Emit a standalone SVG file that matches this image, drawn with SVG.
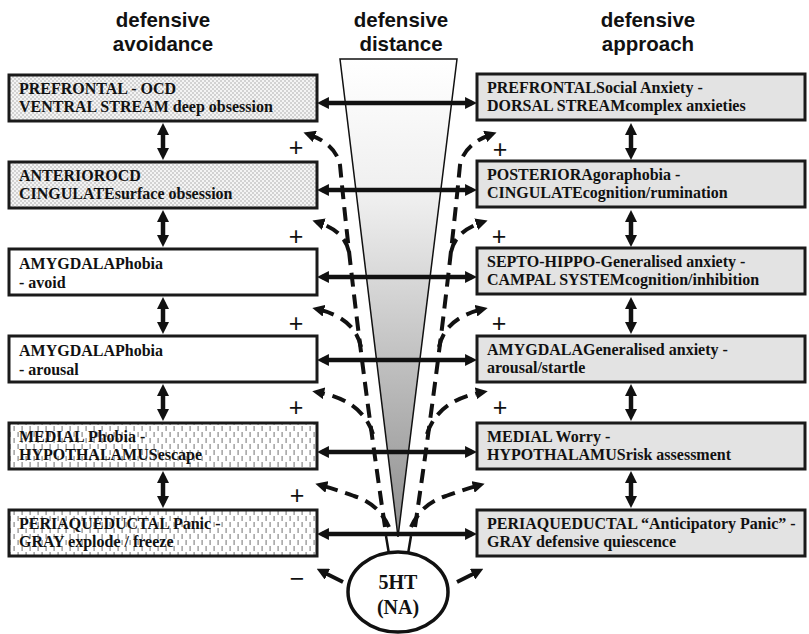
<svg xmlns="http://www.w3.org/2000/svg" width="809" height="634" viewBox="0 0 809 634">
  <defs>
    <style>
      .hdr { font-family: "Liberation Sans", Arial, sans-serif; font-weight: bold; font-size: 20.5px; fill: #111; text-anchor: middle; }
      .lbl { font-family: "Liberation Serif", "Times New Roman", serif; font-weight: bold; font-size: 16px; fill: #111; }
      .src { font-family: "Liberation Serif", "Times New Roman", serif; font-weight: bold; font-size: 20px; fill: #111; text-anchor: middle; }
      .sign { font-family: "Liberation Sans", Arial, sans-serif; font-size: 25px; fill: #111; text-anchor: middle; }
      .box { stroke: #1a1a1a; stroke-width: 3; }
      .dots { fill: url(#checker); }
      .plain { fill: #ffffff; }
      .dashes { fill: url(#vdash); }
      .grey { fill: #e3e3e3; }
      .link { fill: none; stroke: #111; stroke-width: 4.5; marker-start: url(#head); marker-end: url(#head); }
      .flow { fill: none; stroke: #111; stroke-width: 4; stroke-dasharray: 14 8; marker-end: url(#tip); }
      .flow-solid { fill: none; stroke: #111; stroke-width: 4; marker-end: url(#tip); }
    </style>
    <pattern id="checker" width="4" height="4" patternUnits="userSpaceOnUse">
      <rect width="4" height="4" fill="#f4f4f4"/>
      <rect width="2" height="2" fill="#d2d2d2"/>
      <rect x="2" y="2" width="2" height="2" fill="#d2d2d2"/>
    </pattern>
    <pattern id="vdash" width="8" height="12" patternUnits="userSpaceOnUse">
      <rect width="8" height="12" fill="#ffffff"/>
      <rect x="1.5" y="0" width="1.2" height="5" fill="#8a8a8a"/>
      <rect x="5.5" y="6" width="1.2" height="5" fill="#8a8a8a"/>
    </pattern>
    <linearGradient id="coneFill" x1="0" y1="59" x2="0" y2="536" gradientUnits="userSpaceOnUse">
      <stop offset="0" stop-color="#ffffff"/>
      <stop offset="0.3" stop-color="#eeeeee"/>
      <stop offset="1" stop-color="#8e8e8e"/>
    </linearGradient>
    <marker id="head" viewBox="0 0 10 10" refX="5.8" refY="5" markerWidth="12" markerHeight="12" markerUnits="userSpaceOnUse" orient="auto-start-reverse">
      <path d="M0,0 L10,5 L0,10 z" fill="#111"/>
    </marker>
    <marker id="tip" viewBox="0 0 10 10" refX="6" refY="5" markerWidth="12" markerHeight="12" markerUnits="userSpaceOnUse" orient="auto">
      <path d="M0,0 L10,5 L0,10 z" fill="#111"/>
    </marker>
  </defs>

  <rect width="809" height="634" fill="#ffffff"/>

  <!-- column headings -->
  <g id="headings">
    <text class="hdr" x="163" y="27">defensive</text>
    <text class="hdr" x="163" y="51">avoidance</text>
    <text class="hdr" x="401" y="27">defensive</text>
    <text class="hdr" x="401" y="51">distance</text>
    <text class="hdr" x="648" y="27">defensive</text>
    <text class="hdr" x="648" y="51">approach</text>
  </g>

  <!-- defensive distance cone -->
  <g id="cone">
    <polygon points="340,59 457,59 398,537" fill="url(#coneFill)" stroke="#111" stroke-width="1.5"/>
  </g>

  <!-- serotonergic projections: one trunk per side, branches peel off towards each level -->
  <g id="projections">
    <path class="flow" d="M385,527 Q356,330 340,165 Q336,144 308,134"/>
    <path class="flow" d="M349,252 Q345,231 317,222"/>
    <path class="flow" d="M361,347 Q355,318 317,309"/>
    <path class="flow" d="M373,434 Q362,400 317,392"/>
    <path class="flow" d="M389,527 Q378,503 354,496 Q338,490 320,485"/>
    <path class="flow-solid" d="M343,582 L321,571"/>

    <path class="flow" d="M415,527 Q444,330 460,165 Q464,144 492,134"/>
    <path class="flow" d="M451,252 Q455,231 483,222"/>
    <path class="flow" d="M439,347 Q445,318 483,309"/>
    <path class="flow" d="M427,434 Q438,400 483,392"/>
    <path class="flow" d="M411,527 Q422,503 446,496 Q462,490 480,485"/>
    <path class="flow-solid" d="M457,582 L479,571"/>
  </g>

  <!-- links between the two streams and between levels -->
  <g id="connectors">
    <line class="link" x1="322" y1="103" x2="472" y2="103"/>
    <line class="link" x1="322" y1="190" x2="472" y2="190"/>
    <line class="link" x1="322" y1="277" x2="472" y2="277"/>
    <line class="link" x1="322" y1="360" x2="472" y2="360"/>
    <line class="link" x1="322" y1="452" x2="472" y2="452"/>
    <line class="link" x1="322" y1="534" x2="472" y2="534"/>

    <line class="link" x1="163" y1="128" x2="163" y2="155"/>
    <line class="link" x1="163" y1="215" x2="163" y2="242"/>
    <line class="link" x1="163" y1="302" x2="163" y2="329"/>
    <line class="link" x1="163" y1="389" x2="163" y2="416"/>
    <line class="link" x1="163" y1="476" x2="163" y2="503"/>

    <line class="link" x1="631" y1="128" x2="631" y2="155"/>
    <line class="link" x1="631" y1="215" x2="631" y2="242"/>
    <line class="link" x1="631" y1="302" x2="631" y2="329"/>
    <line class="link" x1="631" y1="389" x2="631" y2="416"/>
    <line class="link" x1="631" y1="476" x2="631" y2="503"/>
  </g>

  <!-- sign of each projection -->
  <g id="signs">
    <text class="sign" x="296" y="156">+</text>
    <text class="sign" x="296" y="245">+</text>
    <text class="sign" x="296" y="332">+</text>
    <text class="sign" x="296" y="416">+</text>
    <text class="sign" x="297" y="504">+</text>
    <text class="sign" x="297" y="587">−</text>
    <text class="sign" x="500" y="158">+</text>
    <text class="sign" x="499" y="245">+</text>
    <text class="sign" x="499" y="332">+</text>
    <text class="sign" x="500" y="416">+</text>
  </g>

  <!-- avoidance column -->
  <g id="avoid-prefrontal">
    <rect class="box dots" x="9" y="75" width="308" height="46"/>
    <text class="lbl" x="19" y="94">PREFRONTAL - OCD</text>
    <text class="lbl" x="19" y="112">VENTRAL STREAM deep obsession</text>
  </g>
  <g id="avoid-cingulate">
    <rect class="box dots" x="9" y="162" width="308" height="46"/>
    <text class="lbl" x="19" y="181">ANTERIOROCD</text>
    <text class="lbl" x="19" y="199">CINGULATEsurface obsession</text>
  </g>
  <g id="avoid-amygdala-1">
    <rect class="box plain" x="9" y="249" width="308" height="46"/>
    <text class="lbl" x="19" y="269">AMYGDALAPhobia</text>
    <text class="lbl" x="19" y="288">- avoid</text>
  </g>
  <g id="avoid-amygdala-2">
    <rect class="box plain" x="9" y="336" width="308" height="46"/>
    <text class="lbl" x="19" y="356">AMYGDALAPhobia</text>
    <text class="lbl" x="19" y="375">- arousal</text>
  </g>
  <g id="avoid-hypothalamus">
    <rect class="box dashes" x="9" y="423" width="308" height="46"/>
    <text class="lbl" x="19" y="442">MEDIAL Phobia -</text>
    <text class="lbl" x="19" y="460">HYPOTHALAMUSescape</text>
  </g>
  <g id="avoid-pag">
    <rect class="box dashes" x="9" y="510" width="308" height="46"/>
    <text class="lbl" x="19" y="529">PERIAQUEDUCTAL Panic -</text>
    <text class="lbl" x="19" y="547">GRAY explode / freeze</text>
  </g>

  <!-- approach column -->
  <g id="approach-prefrontal">
    <rect class="box grey" x="477" y="74" width="328" height="46"/>
    <text class="lbl" x="487" y="93">PREFRONTALSocial Anxiety -</text>
    <text class="lbl" x="487" y="111">DORSAL STREAMcomplex anxieties</text>
  </g>
  <g id="approach-cingulate">
    <rect class="box grey" x="477" y="161" width="328" height="46"/>
    <text class="lbl" x="487" y="180">POSTERIORAgoraphobia -</text>
    <text class="lbl" x="487" y="198">CINGULATEcognition/rumination</text>
  </g>
  <g id="approach-septohippocampal">
    <rect class="box grey" x="477" y="248" width="328" height="46"/>
    <text class="lbl" x="487" y="267">SEPTO-HIPPO-Generalised anxiety -</text>
    <text class="lbl" x="487" y="285">CAMPAL SYSTEMcognition/inhibition</text>
  </g>
  <g id="approach-amygdala">
    <rect class="box grey" x="477" y="336" width="328" height="46"/>
    <text class="lbl" x="487" y="355">AMYGDALAGeneralised anxiety -</text>
    <text class="lbl" x="487" y="373">arousal/startle</text>
  </g>
  <g id="approach-hypothalamus">
    <rect class="box grey" x="477" y="423" width="328" height="46"/>
    <text class="lbl" x="487" y="442">MEDIAL Worry -</text>
    <text class="lbl" x="487" y="460">HYPOTHALAMUSrisk assessment</text>
  </g>
  <g id="approach-pag">
    <rect class="box grey" x="477" y="510" width="328" height="46"/>
    <text class="lbl" x="487" y="529">PERIAQUEDUCTAL “Anticipatory Panic” -</text>
    <text class="lbl" x="487" y="547">GRAY defensive quiescence</text>
  </g>

  <!-- monoamine source -->
  <g id="source">
    <path d="M386,536 L389,554 M411,536 L408,554" fill="none" stroke="#111" stroke-width="2.5"/>
    <ellipse cx="398" cy="592" rx="50" ry="40" fill="#ffffff" stroke="#111" stroke-width="3.5"/>
    <text class="src" x="398" y="589">5HT</text>
    <text class="src" x="398" y="614">(NA)</text>
  </g>
</svg>
